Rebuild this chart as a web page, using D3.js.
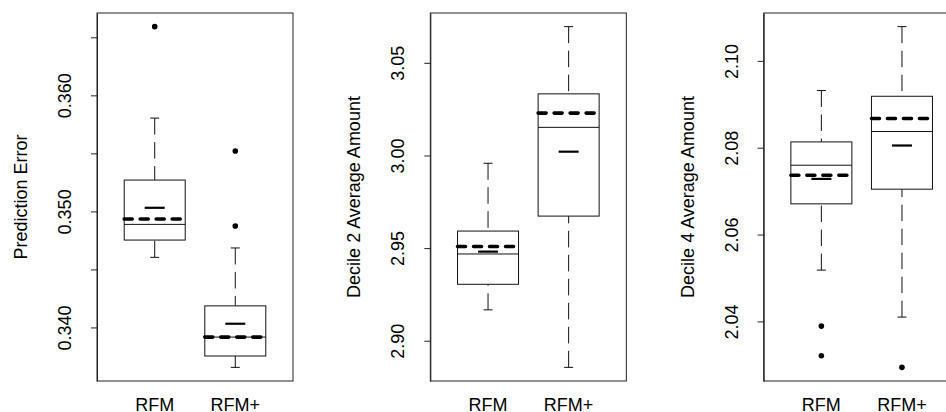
<!DOCTYPE html>
<html>
<head>
<meta charset="utf-8">
<script src="https://cdn.jsdelivr.net/npm/d3@7"></script>
<style>
  body { margin: 0; background: #fff; }
  svg text { font-family: "Liberation Sans", Arial, sans-serif; font-size: 18px; fill: #000; }
</style>
</head>
<body>
<svg id="chart" width="946" height="412"></svg>
<script>
// groups and panel titles
const groups = ["RFM", "RFM+"];
const panelTitles = ["Prediction Error", "Decile 2 Average Amount", "Decile 4 Average Amount"];

// box statistics, one pair [RFM, RFM+] per panel
const lowWhisker  = [[0.34604, 0.33656], [2.91668, 2.88563], [2.05181, 2.04099]];
const q1          = [[0.34753, 0.33754], [2.93047, 2.96728], [2.06707, 2.07045]];
const median      = [[0.34888, 0.33917], [2.94683, 3.01518], [2.07597, 2.08373]];
const q3          = [[0.35270, 0.34186], [2.95920, 3.03326], [2.08134, 2.09185]];
const highWhisker = [[0.35804, 0.34685], [2.99580, 3.06954], [2.09317, 2.10789]];
const dashedLine  = [[0.34934, 0.33917], [2.95090, 3.02287], [2.07367, 2.08672]];
const shortLine   = [[0.35031, 0.34032], [2.94810, 3.00205], [2.07282, 2.08051]];
const outliers    = [[[0.36592], [0.35521, 0.34874]], [[], []], [[2.03892, 2.03208], [2.02941]]];

// y axis ticks and labels
const tickValues = [
  [0.340, 0.345, 0.350, 0.355, 0.360, 0.365],
  [2.90, 2.95, 3.00, 3.05],
  [2.04, 2.06, 2.08, 2.10]
];
const tickLabels = [
  ["0.340", "", "0.350", "", "0.360", ""],
  ["2.90", "2.95", "3.00", "3.05"],
  ["2.04", "2.06", "2.08", "2.10"]
];

const panelWidth = 1000 / 3;
const margin = { left: 97, top: 13 };
const plotW = 196, plotH = 368;

const svg = d3.select("#chart");

panelTitles.forEach((title, p) => {
  const g = svg.append("g")
    .attr("transform", `translate(${p * panelWidth + margin.left},${margin.top})`);

  // y range like R: data range padded by 4%
  const all = [].concat(lowWhisker[p], highWhisker[p], ...outliers[p]);
  const [lo, hi] = d3.extent(all);
  const pad = (hi - lo) * 0.04;
  const y = d3.scaleLinear().domain([lo - pad, hi + pad]).range([plotH, 0]);

  const x = d3.scalePoint().domain(groups).range([0, plotW]).padding(0.716);
  const boxW = x.step() * 0.757;
  const capW = 9;

  // y axis
  const ax = g.append("g")
    .call(d3.axisLeft(y).tickValues(tickValues[p])
      .tickFormat((d, i) => tickLabels[p][i]).tickSize(6).tickSizeOuter(0));
  ax.select(".domain").attr("stroke", "#222");
  ax.selectAll(".tick line").attr("stroke", "#222");
  ax.selectAll(".tick text")
    .attr("x", 0).attr("y", -26).attr("dy", 0)
    .attr("text-anchor", "middle")
    .attr("transform", "rotate(-90)")
    .style("font-size", "18px")
    .style("font-family", "'Liberation Sans', Arial, sans-serif");

  // axis title
  g.append("text")
    .attr("transform", `translate(-70,${plotH / 2}) rotate(-90)`)
    .attr("text-anchor", "middle")
    .text(title);

  // group labels
  g.selectAll(".xlab").data(groups).enter().append("text")
    .attr("class", "xlab")
    .attr("x", d => x(d)).attr("y", 398)
    .attr("text-anchor", "middle")
    .text(d => d);

  groups.forEach((grp, i) => {
    const cx = x(grp);
    const bg = g.append("g");

    // whiskers, drawn from the end toward the box
    [[lowWhisker[p][i], q1[p][i]], [highWhisker[p][i], q3[p][i]]].forEach(([end, edge]) => {
      bg.append("line")
        .attr("x1", cx).attr("x2", cx)
        .attr("y1", y(end)).attr("y2", y(edge))
        .attr("stroke", "#111").attr("stroke-width", 1)
        .attr("stroke-dasharray", "16.5,7.5");
      bg.append("line")
        .attr("x1", cx - capW / 2).attr("x2", cx + capW / 2)
        .attr("y1", y(end)).attr("y2", y(end))
        .attr("stroke", "#111").attr("stroke-width", 1);
    });

    // box
    bg.append("rect")
      .attr("x", cx - boxW / 2).attr("width", boxW)
      .attr("y", y(q3[p][i])).attr("height", y(q1[p][i]) - y(q3[p][i]))
      .attr("fill", "#fff").attr("stroke", "#111").attr("stroke-width", 1);

    // median
    bg.append("line")
      .attr("x1", cx - boxW / 2).attr("x2", cx + boxW / 2)
      .attr("y1", y(median[p][i])).attr("y2", y(median[p][i]))
      .attr("stroke", "#111").attr("stroke-width", 1);

    // short thick line
    bg.append("line")
      .attr("x1", cx - 10).attr("x2", cx + 10)
      .attr("y1", y(shortLine[p][i])).attr("y2", y(shortLine[p][i]))
      .attr("stroke", "#000").attr("stroke-width", 2.2);

    // thick dashed line
    bg.append("line")
      .attr("x1", cx - boxW / 2).attr("x2", cx + boxW / 2)
      .attr("y1", y(dashedLine[p][i])).attr("y2", y(dashedLine[p][i]))
      .attr("stroke", "#000").attr("stroke-width", 3.6)
      .attr("stroke-linecap", "round")
      .attr("stroke-dasharray", "8,8");

    // outliers
    bg.selectAll("circle").data(outliers[p][i]).enter().append("circle")
      .attr("cx", cx).attr("cy", d => y(d)).attr("r", 2.8)
      .attr("fill", "#000");
  });

  // frame
  g.append("rect")
    .attr("x", 0).attr("y", 0).attr("width", plotW).attr("height", plotH)
    .attr("fill", "none").attr("stroke", "#222").attr("stroke-width", 1);
});
</script>
</body>
</html>
